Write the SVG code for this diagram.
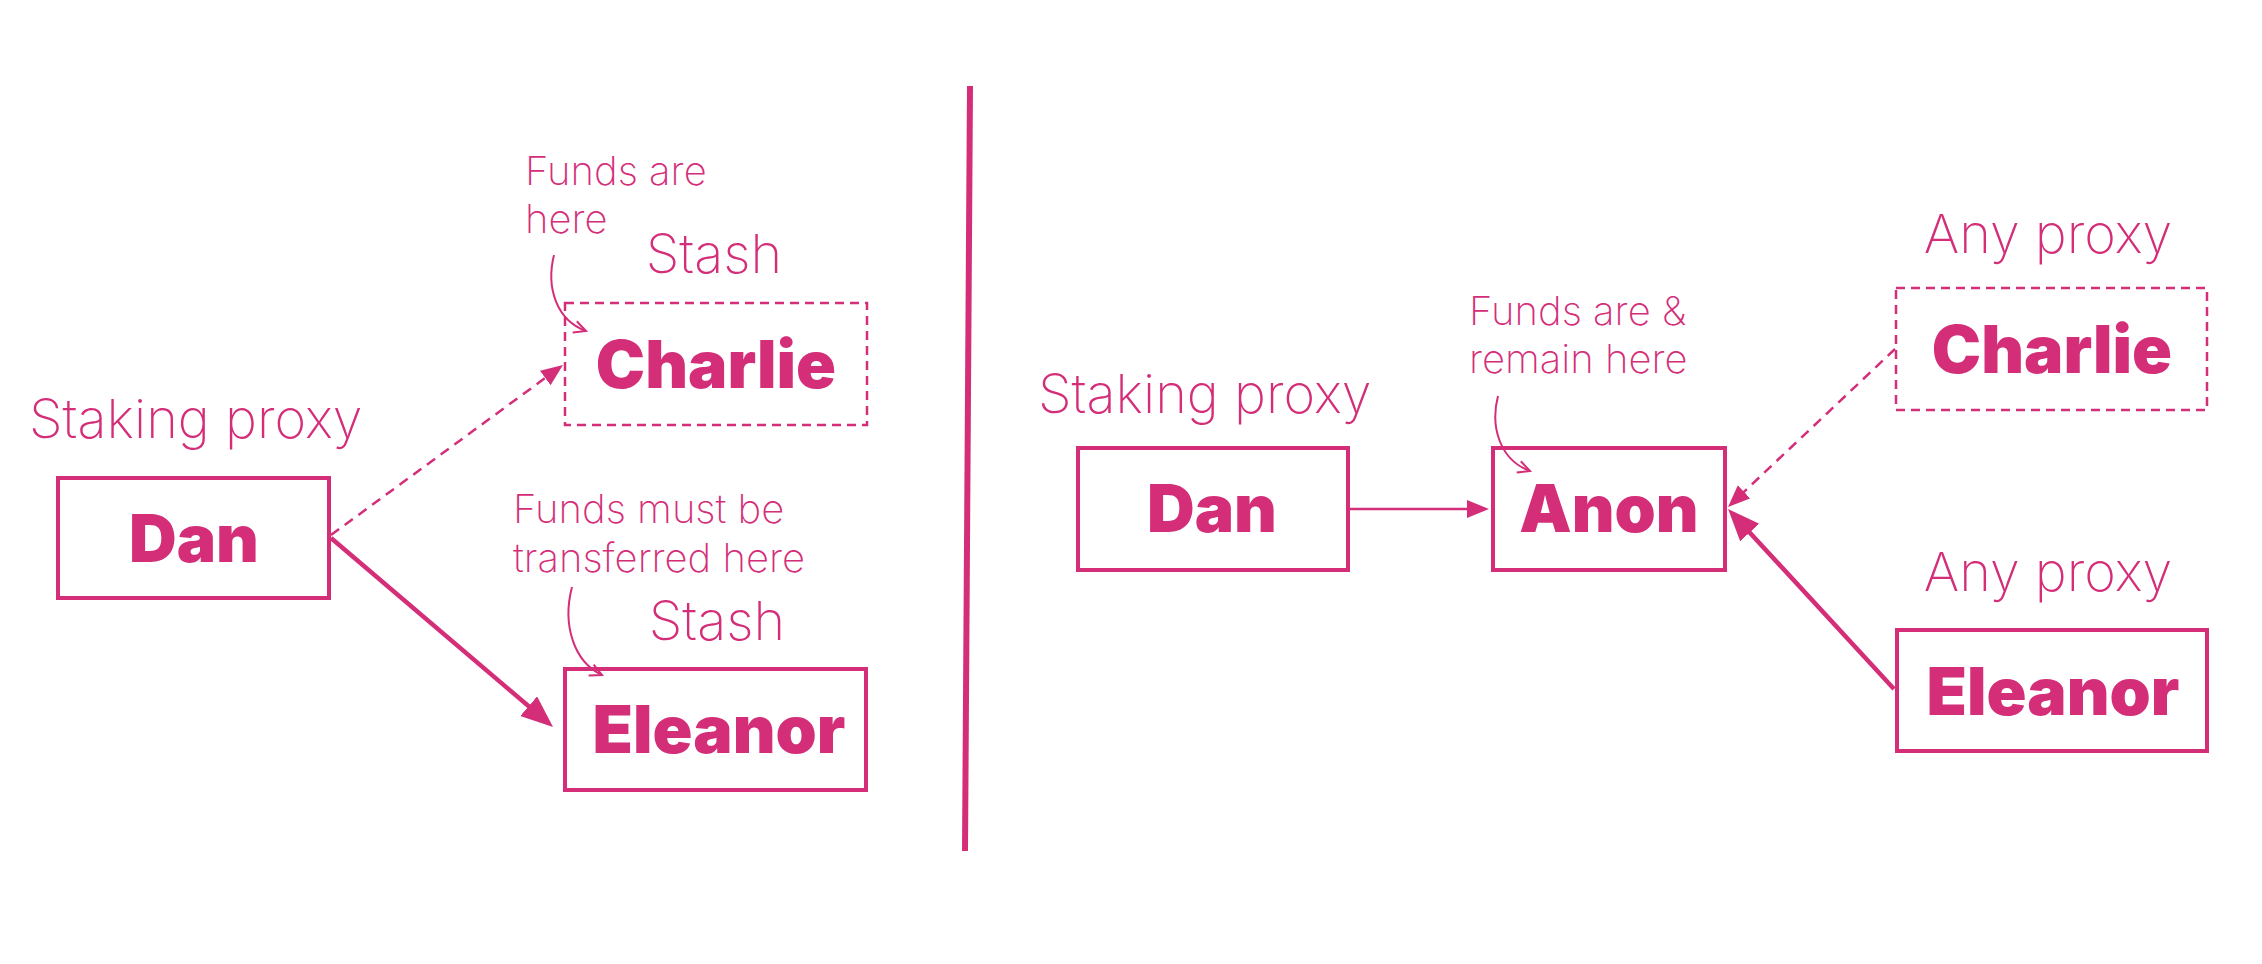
<svg xmlns="http://www.w3.org/2000/svg" width="2262" height="964" viewBox="0 0 2262 964">
<style>
.bg{fill:#ffffff}
.box{fill:none;stroke:#d42e79;stroke-width:4}
.dbox{fill:none;stroke:#d42e79;stroke-width:2.5;stroke-dasharray:9 6}
.name{font-family:Inter,"Noto Sans","Liberation Sans",sans-serif;font-weight:900;font-size:66px;fill:#d42e79;text-anchor:middle}
.lbl{font-family:Inter,"Noto Sans","Liberation Sans",sans-serif;font-weight:200;font-size:54px;fill:#d42e79}
.note{font-family:Inter,"Noto Sans","Liberation Sans",sans-serif;font-weight:200;font-size:40px;fill:#d42e79}
.mid{text-anchor:middle}
.thin{fill:none;stroke:#d42e79;stroke-width:2.5}
.thick{fill:none;stroke:#d42e79;stroke-width:4.5}
.dash{stroke-dasharray:10 7}
.curve{fill:none;stroke:#d42e79;stroke-width:2}
.div{stroke:#d42e79;stroke-width:6}
</style>
<defs>
<marker id="hThin" markerUnits="userSpaceOnUse" markerWidth="24" markerHeight="20" refX="12" refY="9" orient="auto"><path d="M0,0 L22,9 L0,18 z" fill="#d42e79"/></marker>
<marker id="hThick" markerUnits="userSpaceOnUse" markerWidth="34" markerHeight="28" refX="12" refY="13" orient="auto"><path d="M0,0 L32,13 L0,26 z" fill="#d42e79"/></marker>
<marker id="hOpen" markerUnits="userSpaceOnUse" markerWidth="16" markerHeight="16" refX="13" refY="7" orient="auto"><path d="M1,1 L13,7 L1,13" fill="none" stroke="#d42e79" stroke-width="2"/></marker>
</defs>
<rect class="bg" x="0" y="0" width="2262" height="964"/>

<line id="divider" class="div" x1="970" y1="86" x2="965" y2="851"/>

<g id="connectors">
<path id="c-dan-charlie-l" class="thin dash" d="M331,535 L554.9,370.9" marker-end="url(#hThin)"/>
<path id="c-dan-eleanor-l" class="thick" d="M331,538 L537.8,714" marker-end="url(#hThick)"/>
<path id="c-dan-anon" class="thin" d="M1350,509 L1479,509" marker-end="url(#hThin)"/>
<path id="c-charlie-anon" class="thin dash" d="M1895,349 L1735.3,500.1" marker-end="url(#hThin)"/>
<path id="c-eleanor-anon" class="thick" d="M1894,689 L1741.6,523.7" marker-end="url(#hThick)"/>
<path id="n-funds-here" class="curve" d="M554,255 C546,287 556,320 586,331" marker-end="url(#hOpen)"/>
<path id="n-funds-transfer" class="curve" d="M572,587 C562,625 574,662 602,675" marker-end="url(#hOpen)"/>
<path id="n-funds-remain" class="curve" d="M1498,396 C1490,427 1500,460 1530,471" marker-end="url(#hOpen)"/>
</g>

<g id="left-dan">
<text class="lbl" x="29" y="438">Staking proxy</text>
<rect class="box" x="58" y="478" width="271" height="120"/>
<text class="name" x="194" y="562">Dan</text>
</g>

<g id="left-charlie">
<text class="note" x="525" y="185">Funds are</text>
<text class="note" x="525" y="233">here</text>
<text class="lbl mid" x="714" y="273">Stash</text>
<rect class="dbox" x="565" y="303" width="302" height="122"/>
<text class="name" x="716" y="388">Charlie</text>
</g>

<g id="left-eleanor">
<text class="note" x="513" y="523">Funds must be</text>
<text class="note" x="513" y="572">transferred here</text>
<text class="lbl mid" x="717" y="640">Stash</text>
<rect class="box" x="565" y="669" width="301" height="121"/>
<text class="name" x="719" y="753">Eleanor</text>
</g>

<g id="right-dan">
<text class="lbl" x="1038" y="413">Staking proxy</text>
<rect class="box" x="1078" y="448" width="270" height="122"/>
<text class="name" x="1212" y="532">Dan</text>
</g>

<g id="right-anon">
<text class="note" x="1469" y="325">Funds are &amp;</text>
<text class="note" x="1469" y="373">remain here</text>
<rect class="box" x="1493" y="448" width="232" height="122"/>
<text class="name" x="1609" y="532">Anon</text>
</g>

<g id="right-charlie">
<text class="lbl mid" x="2048" y="253">Any proxy</text>
<rect class="dbox" x="1896" y="288" width="311" height="122"/>
<text class="name" x="2052" y="373">Charlie</text>
</g>

<g id="right-eleanor">
<text class="lbl mid" x="2048" y="591">Any proxy</text>
<rect class="box" x="1897" y="630" width="310" height="121"/>
<text class="name" x="2053" y="715">Eleanor</text>
</g>
</svg>
